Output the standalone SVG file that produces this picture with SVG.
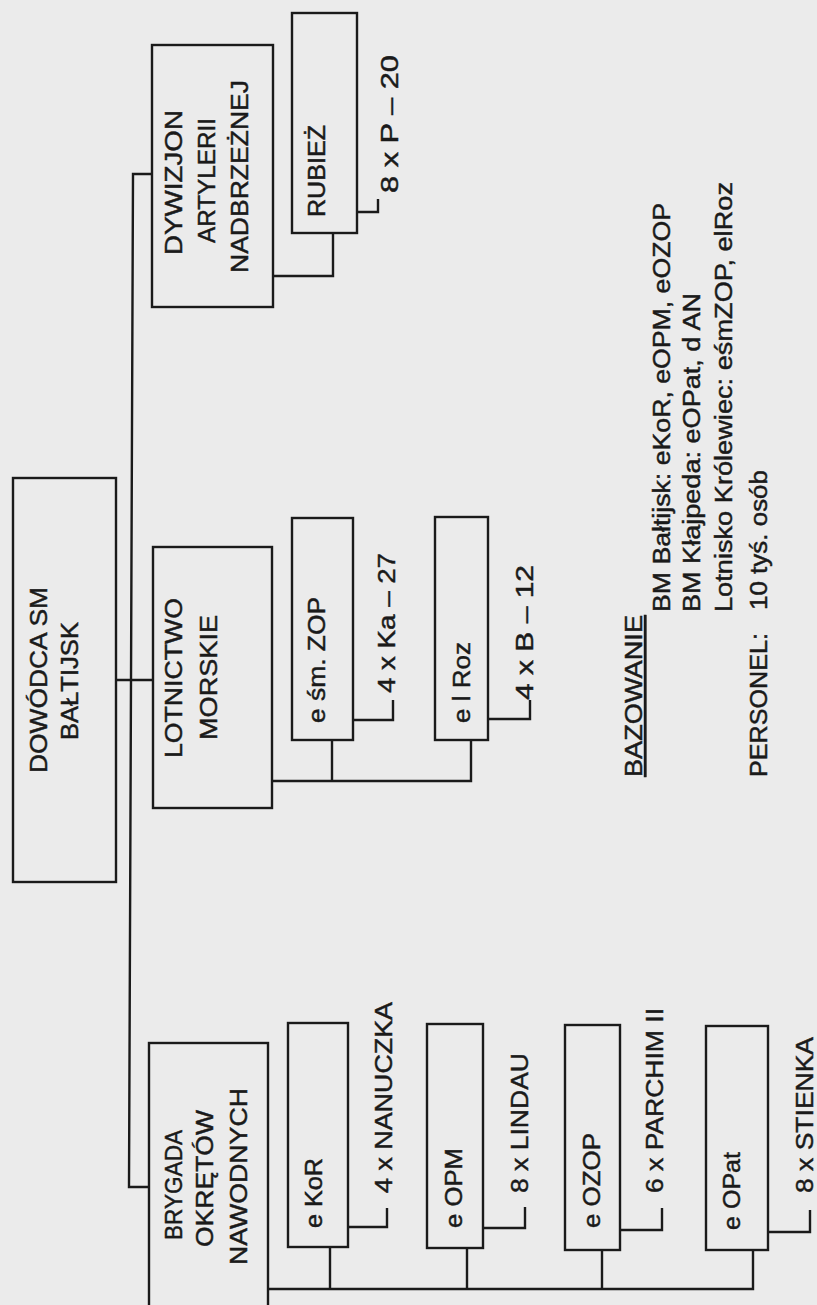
<svg xmlns="http://www.w3.org/2000/svg" width="817" height="1305" viewBox="0 0 817 1305">
<style>
.bg{fill:#ebebeb}
.box{fill:none;stroke:#1a1a1a;stroke-width:2.4}
.con{fill:none;stroke:#1a1a1a;stroke-width:2.4}
text{font-family:"Liberation Sans",Arial,sans-serif;font-size:23.5px;fill:#1a1a1a;stroke:#1a1a1a;stroke-width:0.45}
.u{text-decoration:underline}
</style>
<rect class="bg" x="0" y="0" width="817" height="1305"/>
<g id="connectors">
<path class="con" d="M152,174 H133 L129,1187 H149"/>
<path class="con" d="M116,680 H153"/>
<path class="con" d="M273,276 H333 V233"/>
<path class="con" d="M357,212 H378 V199"/>
<path class="con" d="M272,781 H471 V740 M332,781 V740"/>
<path class="con" d="M353,720 H393 V700"/>
<path class="con" d="M488,719 H530 V700"/>
<path class="con" d="M268,1289 H753 V1250 M330,1289 V1247 M467,1289 V1248 M602,1289 V1250"/>
<path class="con" d="M348,1227 H387 V1208"/>
<path class="con" d="M483,1228 H525 V1207"/>
<path class="con" d="M620,1230 H662 V1208"/>
<path class="con" d="M768,1232 H810 V1210"/>
</g>
<g id="n-dywizjon">
<rect class="box" x="152" y="45" width="121" height="262"/>
<text transform="translate(182,255) rotate(-90)" textLength="145" lengthAdjust="spacingAndGlyphs">DYWIZJON</text>
<text transform="translate(215,243) rotate(-90)" textLength="125" lengthAdjust="spacingAndGlyphs">ARTYLERII</text>
<text transform="translate(248,273) rotate(-90)" textLength="193" lengthAdjust="spacingAndGlyphs">NADBRZEŻNEJ</text>
</g>
<g id="n-rubiez">
<rect class="box" x="292" y="13" width="65" height="220"/>
<text transform="translate(325,217) rotate(-90)" textLength="92" lengthAdjust="spacingAndGlyphs">RUBIEŻ</text>
</g>
<g id="n-rubiez-eq">
<text transform="translate(398,193) rotate(-90)" textLength="138" lengthAdjust="spacingAndGlyphs">8 x P – 20</text>
</g>
<g id="n-dowodca">
<rect class="box" x="13" y="478" width="103" height="404"/>
<text transform="translate(47,773) rotate(-90)" textLength="186" lengthAdjust="spacingAndGlyphs">DOWÓDCA SM</text>
<text transform="translate(78,740) rotate(-90)" textLength="118" lengthAdjust="spacingAndGlyphs">BAŁTIJSK</text>
</g>
<g id="n-lotnictwo">
<rect class="box" x="153" y="547" width="119" height="261"/>
<text transform="translate(182,758) rotate(-90)" textLength="160" lengthAdjust="spacingAndGlyphs">LOTNICTWO</text>
<text transform="translate(217,740) rotate(-90)" textLength="125" lengthAdjust="spacingAndGlyphs">MORSKIE</text>
</g>
<g id="n-zop">
<rect class="box" x="292" y="518" width="61" height="222"/>
<text transform="translate(325,723) rotate(-90)" textLength="126" lengthAdjust="spacingAndGlyphs">e śm. ZOP</text>
</g>
<g id="n-zop-eq">
<text transform="translate(395,693) rotate(-90)" textLength="140" lengthAdjust="spacingAndGlyphs">4 x Ka – 27</text>
</g>
<g id="n-roz">
<rect class="box" x="435" y="517" width="53" height="223"/>
<text transform="translate(470,723) rotate(-90)" textLength="81" lengthAdjust="spacingAndGlyphs">e l Roz</text>
</g>
<g id="n-roz-eq">
<text transform="translate(533,700) rotate(-90)" textLength="135" lengthAdjust="spacingAndGlyphs">4 x B – 12</text>
</g>
<g id="n-bazowanie">
<text class="u" transform="translate(642,777) rotate(-90)" textLength="162" lengthAdjust="spacingAndGlyphs">BAZOWANIE</text>
<text transform="translate(670,612) rotate(-90)" textLength="409" lengthAdjust="spacingAndGlyphs">BM Bałtijsk: eKoR, eOPM, eOZOP</text>
<text transform="translate(700,612) rotate(-90)" textLength="319" lengthAdjust="spacingAndGlyphs">BM Kłajpeda: eOPat, d AN</text>
<text transform="translate(732,612) rotate(-90)" textLength="430" lengthAdjust="spacingAndGlyphs">Lotnisko Królewiec: eśmZOP, elRoz</text>
</g>
<g id="n-personel">
<text transform="translate(767,777) rotate(-90)" textLength="144" lengthAdjust="spacingAndGlyphs">PERSONEL:</text>
<text transform="translate(767,610) rotate(-90)" textLength="140" lengthAdjust="spacingAndGlyphs">10 tyś. osób</text>
</g>
<g id="n-brygada">
<rect class="box" x="149" y="1043" width="119" height="280"/>
<text transform="translate(182,1240) rotate(-90)" textLength="110" lengthAdjust="spacingAndGlyphs">BRYGADA</text>
<text transform="translate(213,1247) rotate(-90)" textLength="137" lengthAdjust="spacingAndGlyphs">OKRĘTÓW</text>
<text transform="translate(247,1265) rotate(-90)" textLength="177" lengthAdjust="spacingAndGlyphs">NAWODNYCH</text>
</g>
<g id="n-kor">
<rect class="box" x="288" y="1023" width="60" height="224"/>
<text transform="translate(322,1228) rotate(-90)" textLength="70" lengthAdjust="spacingAndGlyphs">e KoR</text>
</g>
<g id="n-kor-eq">
<text transform="translate(392,1193) rotate(-90)" textLength="191" lengthAdjust="spacingAndGlyphs">4 x NANUCZKA</text>
</g>
<g id="n-opm">
<rect class="box" x="427" y="1024" width="56" height="224"/>
<text transform="translate(462,1228) rotate(-90)" textLength="80" lengthAdjust="spacingAndGlyphs">e OPM</text>
</g>
<g id="n-opm-eq">
<text transform="translate(528,1193) rotate(-90)" textLength="140" lengthAdjust="spacingAndGlyphs">8 x LINDAU</text>
</g>
<g id="n-ozop">
<rect class="box" x="565" y="1025" width="55" height="225"/>
<text transform="translate(600,1228) rotate(-90)" textLength="95" lengthAdjust="spacingAndGlyphs">e OZOP</text>
</g>
<g id="n-ozop-eq">
<text transform="translate(663,1193) rotate(-90)" textLength="185" lengthAdjust="spacingAndGlyphs">6 x PARCHIM II</text>
</g>
<g id="n-opat">
<rect class="box" x="706" y="1026" width="62" height="224"/>
<text transform="translate(740,1230) rotate(-90)" textLength="78" lengthAdjust="spacingAndGlyphs">e OPat</text>
</g>
<g id="n-opat-eq">
<text transform="translate(813,1193) rotate(-90)" textLength="156" lengthAdjust="spacingAndGlyphs">8 x STIENKA</text>
</g>
</svg>
